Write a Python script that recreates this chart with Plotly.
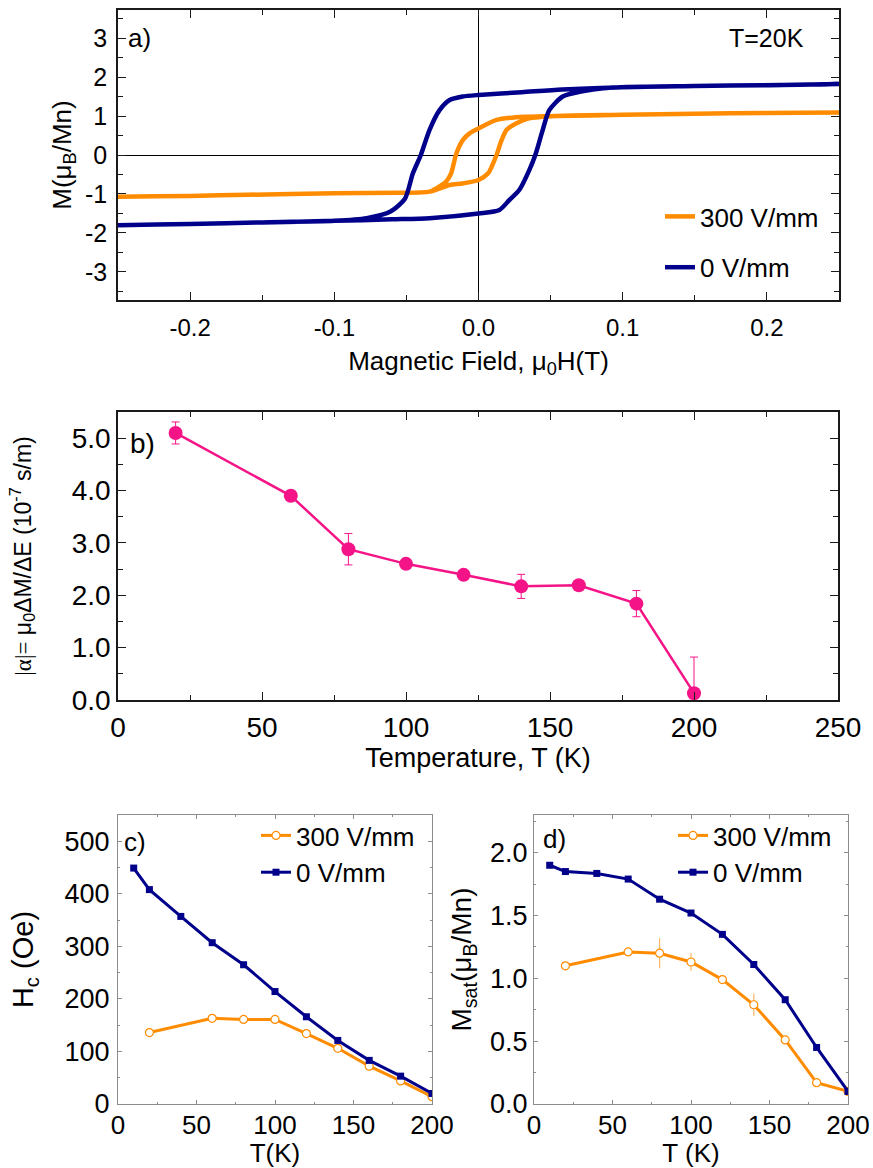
import plotly.graph_objects as go

W, H = 873, 1168
FONT = "Liberation Sans, Arial, Helvetica, sans-serif"
ORANGE = "#FF8C00"
NAVY = "#00008B"
PINK = "#F51487"
ERR_ORANGE = "#F7B766"

# ---------------- Panel a: hysteresis loops at T = 20 K ----------------
# 0 V/mm, descending branch (field swept from +0.25 T to -0.25 T)
h0_desc = [0.25, 0.197, 0.15, 0.10, 0.058, 0.03, 0.0, -0.011, -0.020, -0.027,
           -0.034, -0.040, -0.0455, -0.051, -0.061, -0.0775, -0.10, -0.15, -0.20, -0.25]
m0_desc = [1.82, 1.79, 1.77, 1.74, 1.68, 1.61, 1.54, 1.50, 1.41, 1.15,
           0.64, 0.0, -0.47, -1.12, -1.45, -1.62, -1.69, -1.73, -1.77, -1.80]
# 0 V/mm, ascending branch (-0.25 T to +0.25 T)
h0_asc = [-0.25, -0.20, -0.15, -0.10, -0.06, -0.034, 0.0, 0.0145, 0.0215, 0.0284,
          0.0353, 0.0394, 0.0445, 0.0491, 0.0584, 0.070, 0.093, 0.15, 0.20, 0.25]
m0_asc = [-1.80, -1.77, -1.73, -1.69, -1.65, -1.62, -1.50, -1.41, -1.15, -0.89,
          -0.38, 0.0, 0.64, 1.15, 1.50, 1.62, 1.73, 1.77, 1.79, 1.82]
# 300 V/mm, descending branch
h300_desc = [0.25, 0.20, 0.15, 0.10, 0.054, 0.035, 0.026, 0.0125, 0.0, -0.006, -0.0109,
             -0.0144, -0.016, -0.019, -0.0224, -0.029, -0.034, -0.055, -0.10, -0.16, -0.20, -0.25]
m300_desc = [1.09, 1.08, 1.06, 1.03, 1.00, 0.98, 0.97, 0.90, 0.68, 0.56, 0.38,
             0.13, -0.04, -0.47, -0.68, -0.85, -0.94, -0.97, -0.98, -1.02, -1.05, -1.07]
# 300 V/mm, ascending branch
h300_asc = [-0.25, -0.20, -0.16, -0.10, -0.055, -0.034, -0.020, -0.011, 0.0, 0.0067, 0.0102,
            0.0125, 0.016, 0.0194, 0.026, 0.035, 0.054, 0.10, 0.15, 0.20, 0.25]
m300_asc = [-1.07, -1.05, -1.02, -0.98, -0.97, -0.94, -0.77, -0.73, -0.64, -0.47, -0.21,
            0.0, 0.38, 0.64, 0.81, 0.94, 1.00, 1.03, 1.06, 1.08, 1.09]

a_xticks = [-0.2, -0.1, 0.0, 0.1, 0.2]
a_xticktext = ["-0.2", "-0.1", "0.0", "0.1", "0.2"]
a_yticks = [-3, -2, -1, 0, 1, 2, 3]
a_yticktext = ["-3", "-2", "-1", "0", "1", "2", "3"]

# ---------------- Panel b: magnetoelectric coefficient ----------------
alpha_T = [20, 60, 80, 100, 120, 140, 160, 180, 200]
alpha_val = [5.10, 3.90, 2.88, 2.60, 2.39, 2.17, 2.19, 1.84, 0.13]
alpha_err = [0.21, 0.0, 0.30, 0.0, 0.0, 0.23, 0.0, 0.25, 0.69]

# ---------------- Panel c: coercive field ----------------
T0 = [10, 20, 40, 60, 80, 100, 120, 140, 160, 180, 200]
Hc0 = [449, 408, 357, 307, 265, 214, 166, 121, 83, 53, 20]
T300 = [20, 60, 80, 100, 120, 140, 160, 180, 200]
Hc300 = [136, 163, 161, 161, 134, 106, 72, 44, 14]

# ---------------- Panel d: saturation magnetisation ----------------
Ms0 = [1.90, 1.85, 1.835, 1.79, 1.63, 1.52, 1.35, 1.11, 0.83, 0.45, 0.10]
Ms300 = [1.10, 1.21, 1.20, 1.13, 0.99, 0.79, 0.51, 0.17, 0.10]
Ms300_err = [0.035, 0.0, 0.12, 0.07, 0.0, 0.09, 0.0, 0.0, 0.0]


def px_x(p):
    return p / W


def px_y(p):
    return 1 - p / H


fig = go.Figure()

# panel a traces
fig.add_trace(go.Scatter(x=h300_desc + h300_asc, y=m300_desc + m300_asc, mode="lines",
                         line=dict(color=ORANGE, width=4.5, shape="spline", smoothing=0.7),
                         name="300 V/mm",
                         xaxis="x", yaxis="y", legend="legend", legendgroup="a300"))
fig.add_trace(go.Scatter(x=h0_desc + h0_asc, y=m0_desc + m0_asc, mode="lines",
                         line=dict(color=NAVY, width=4.5, shape="spline", smoothing=0.7),
                         name="0 V/mm",
                         xaxis="x", yaxis="y", legend="legend", legendgroup="a0"))

# panel b
fig.add_trace(go.Scatter(x=alpha_T, y=alpha_val, mode="lines+markers",
                         line=dict(color=PINK, width=2.5),
                         marker=dict(color=PINK, size=14, symbol="circle"),
                         error_y=dict(type="data", array=alpha_err, color=PINK,
                                      thickness=1, width=4),
                         showlegend=False, xaxis="x2", yaxis="y2"))

# panel c
fig.add_trace(go.Scatter(x=T300, y=Hc300, mode="lines+markers", name="300 V/mm",
                         line=dict(color=ORANGE, width=3),
                         marker=dict(symbol="circle", size=8, color="white",
                                     line=dict(color=ORANGE, width=1.2)),
                         xaxis="x3", yaxis="y3", legend="legend2", legendgroup="c300"))
fig.add_trace(go.Scatter(x=T0, y=Hc0, mode="lines+markers", name="0 V/mm",
                         line=dict(color=NAVY, width=3),
                         marker=dict(symbol="square", size=7, color=NAVY),
                         xaxis="x3", yaxis="y3", legend="legend2", legendgroup="c0"))

# panel d
fig.add_trace(go.Scatter(x=T300, y=Ms300, mode="lines+markers", name="300 V/mm",
                         line=dict(color=ORANGE, width=3),
                         marker=dict(symbol="circle", size=8, color="white",
                                     line=dict(color=ORANGE, width=1.2)),
                         error_y=dict(type="data", array=Ms300_err, color=ERR_ORANGE,
                                      thickness=1.2, width=0),
                         xaxis="x4", yaxis="y4", legend="legend3", legendgroup="d300"))
fig.add_trace(go.Scatter(x=T0, y=Ms0, mode="lines+markers", name="0 V/mm",
                         line=dict(color=NAVY, width=3),
                         marker=dict(symbol="square", size=7, color=NAVY),
                         xaxis="x4", yaxis="y4", legend="legend3", legendgroup="d0"))

dark_axis = dict(showline=True, linecolor="#1a1a1a", linewidth=1.5, mirror="allticks",
                 ticks="inside", ticklen=8, tickwidth=1.3, tickcolor="#1a1a1a",
                 showgrid=False, zeroline=False, automargin=False,
                 tickfont=dict(family=FONT, size=24, color="black"))
grey_axis = dict(showline=True, linecolor="#8c8c8c", linewidth=1, mirror="allticks",
                 ticks="inside", ticklen=4, tickwidth=1, tickcolor="#8c8c8c",
                 showgrid=False, zeroline=False, automargin=False,
                 tickfont=dict(family=FONT, size=27, color="black"))

xa = dict(dark_axis, domain=[px_x(118), px_x(839)], anchor="y", range=[-0.25, 0.25],
          tickmode="array", tickvals=a_xticks, ticktext=a_xticktext,
          minor=dict(dtick=0.05, tick0=0, ticks="inside", ticklen=5, tickcolor="#1a1a1a"),
          zeroline=True, zerolinecolor="black", zerolinewidth=1,
          ticklabelstandoff=5,
          title=dict(text="Magnetic Field, μ<sub>0</sub>H(T)",
                     font=dict(family=FONT, size=26, color="black"), standoff=12))
ya = dict(dark_axis, domain=[px_y(300), px_y(10)], anchor="x", range=[-3.72, 3.72],
          tickmode="array", tickvals=a_yticks, ticktext=a_yticktext,
          tickfont=dict(family=FONT, size=25, color="black"),
          minor=dict(dtick=0.5, tick0=0, ticks="inside", ticklen=5, tickcolor="#1a1a1a"),
          zeroline=True, zerolinecolor="black", zerolinewidth=1,
          ticklabelstandoff=4,
          title=dict(text="M(μ<sub>B</sub>/Mn)",
                     font=dict(family=FONT, size=26, color="black"), standoff=6))

xb = dict(dark_axis, domain=[px_x(118), px_x(838)], anchor="y2", range=[0, 250],
          dtick=50, tick0=0, tickfont=dict(family=FONT, size=28, color="black"),
          minor=dict(dtick=25, ticks="inside", ticklen=5, tickcolor="#1a1a1a"),
          ticklabelstandoff=2,
          title=dict(text="Temperature, T (K)",
                     font=dict(family=FONT, size=27, color="black"), standoff=4))
yb = dict(dark_axis, domain=[px_y(700), px_y(412)], anchor="x2", range=[0, 5.5],
          dtick=1, tick0=0, tickformat=".1f",
          tickfont=dict(family=FONT, size=28, color="black"),
          minor=dict(dtick=0.5, ticks="inside", ticklen=5, tickcolor="#1a1a1a"),
          ticklabelstandoff=0,
          title=dict(text="<span style=\"font-family:'Liberation Serif'\">|α|=</span> "
                          "μ<sub>0</sub>ΔM/ΔE (10<sup>-7</sup> s/m)",
                     font=dict(family=FONT, size=23, color="black"), standoff=34))

xc = dict(grey_axis, domain=[px_x(118), px_x(432)], anchor="y3", range=[0, 200],
          dtick=50, tick0=0, tickfont=dict(family=FONT, size=26, color="black"),
          minor=dict(dtick=25, ticks="inside", ticklen=2, tickcolor="#8c8c8c"),
          ticklabelstandoff=-2,
          title=dict(text="T(K)", font=dict(family=FONT, size=26, color="black"), standoff=6))
yc = dict(grey_axis, domain=[px_y(1104), px_y(815)], anchor="x3", range=[0, 550],
          dtick=100, tick0=0,
          minor=dict(dtick=50, ticks="inside", ticklen=2, tickcolor="#8c8c8c"),
          ticklabelstandoff=2,
          title=dict(text="H<sub>c</sub> (Oe)", font=dict(family=FONT, size=29, color="black"),
                     standoff=22))

xd = dict(grey_axis, domain=[px_x(534), px_x(848)], anchor="y4", range=[0, 200],
          dtick=50, tick0=0, tickfont=dict(family=FONT, size=26, color="black"),
          minor=dict(dtick=25, ticks="inside", ticklen=2, tickcolor="#8c8c8c"),
          ticklabelstandoff=-2,
          title=dict(text="T (K)", font=dict(family=FONT, size=26, color="black"), standoff=6))
yd = dict(grey_axis, domain=[px_y(1104), px_y(815)], anchor="x4", range=[0, 2.3],
          dtick=0.5, tick0=0, tickformat=".1f",
          minor=dict(dtick=0.25, ticks="inside", ticklen=2, tickcolor="#8c8c8c"),
          ticklabelstandoff=0,
          title=dict(text="M<sub>sat</sub>(μ<sub>B</sub>/Mn)",
                     font=dict(family=FONT, size=28, color="black"), standoff=10))

leg_common = dict(bgcolor="rgba(0,0,0,0)", borderwidth=0, xanchor="left", yanchor="top",
                  traceorder="grouped", itemclick=False, itemdoubleclick=False)

fig.update_layout(
    width=W, height=H,
    margin=dict(l=0, r=0, t=0, b=0),
    paper_bgcolor="white", plot_bgcolor="white",
    font=dict(family=FONT, color="black"),
    xaxis=xa, yaxis=ya, xaxis2=xb, yaxis2=yb,
    xaxis3=xc, yaxis3=yc, xaxis4=xd, yaxis4=yd,
    legend=dict(leg_common, x=px_x(660), y=px_y(193), tracegroupgap=14,
                font=dict(family=FONT, size=26, color="black")),
    legend2=dict(leg_common, x=px_x(256), y=px_y(812), tracegroupgap=0,
                 font=dict(family=FONT, size=26, color="black")),
    legend3=dict(leg_common, x=px_x(673), y=px_y(812), tracegroupgap=0,
                 font=dict(family=FONT, size=26, color="black")),
    annotations=[
        dict(text="a)", x=px_x(126), y=px_y(38), xref="paper", yref="paper",
             xanchor="left", yanchor="middle", showarrow=False,
             font=dict(family=FONT, size=26, color="black")),
        dict(text="T=20K", x=px_x(806), y=px_y(38), xref="paper", yref="paper",
             xanchor="right", yanchor="middle", showarrow=False,
             font=dict(family=FONT, size=25, color="black")),
        dict(text="b)", x=px_x(128), y=px_y(443), xref="paper", yref="paper",
             xanchor="left", yanchor="middle", showarrow=False,
             font=dict(family=FONT, size=28, color="black")),
        dict(text="c)", x=px_x(122), y=px_y(842), xref="paper", yref="paper",
             xanchor="left", yanchor="middle", showarrow=False,
             font=dict(family=FONT, size=26, color="black")),
        dict(text="d)", x=px_x(541), y=px_y(839), xref="paper", yref="paper",
             xanchor="left", yanchor="middle", showarrow=False,
             font=dict(family=FONT, size=26, color="black")),
    ],
)

fig.write_html("out.html")
